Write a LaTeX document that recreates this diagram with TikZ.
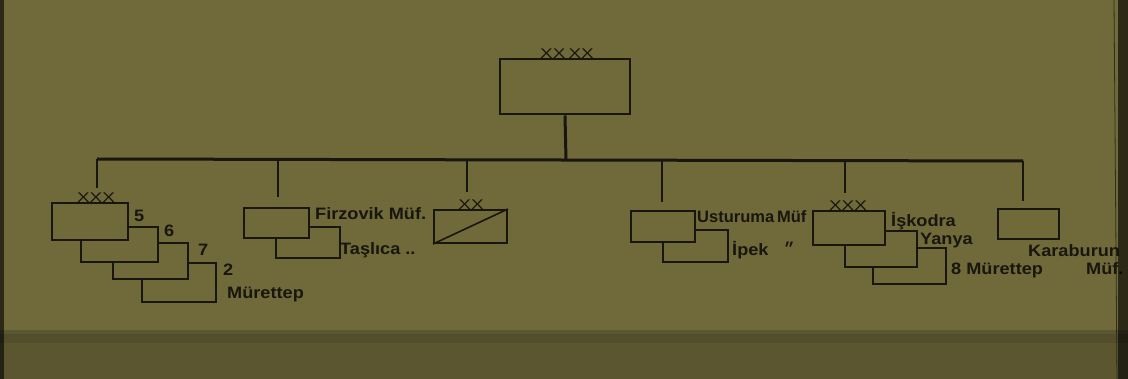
\documentclass[tikz,border=0pt]{standalone}
\usepackage{fontspec}
\setmainfont{Liberation Sans}
\definecolor{paper}{RGB}{112,105,58}
\definecolor{paperdark}{RGB}{92,86,48}
\definecolor{ink}{RGB}{24,22,14}
\begin{document}
\begin{tikzpicture}[x=1pt,y=-1pt,
  unitbox/.style={draw=ink,line width=2pt,fill=none},
  busline/.style={draw=ink,line width=3pt},
  drop/.style={draw=ink,line width=2.6pt},
  lbl/.style={anchor=base west,inner sep=0pt,text=ink,xscale=1.1,font=\fontsize{16.5}{16.5}\selectfont\bfseries},
  echelon/.style={anchor=base,inner sep=0pt,text=ink,xscale=1.35,font=\fontsize{14}{14}\selectfont}]
% background (photo of page)
\fill[paper] (0,0) rectangle (1128,379);
\fill[paperdark] (0,330) rectangle (1128,379);
\fill[paperdark!80!black,opacity=0.5] (0,334) rectangle (1128,343);
\fill[black,opacity=0.6] (0,0) rectangle (4,379);
\useasboundingbox (0,0) rectangle (1128,379);

% top (army) box
\node[unitbox,minimum width=130pt,minimum height=55pt,inner sep=0pt] (army) at (565,87) {};
\node[echelon] (armymark) at (567,59) {XX\,XX};
% bus
\coordinate (busL) at (97,159);
\coordinate (busR) at (1023,161);
\coordinate (busC) at (566,160);
\draw[busline] (army.south) -- (busC);
\draw[busline] (busL) -- (busR);

% drops
\coordinate (d1) at (97,159);   \coordinate (e1) at (97,188);
\coordinate (d2) at (278,159);  \coordinate (e2) at (278,197);
\coordinate (d3) at (467,160);  \coordinate (e3) at (467,192);
\coordinate (d4) at (662,160);  \coordinate (e4) at (662,202);
\coordinate (d5) at (845,161);  \coordinate (e5) at (845,193);
\coordinate (d6) at (1023,161); \coordinate (e6) at (1023,201);
\foreach \i in {1,...,6} \draw[drop] (d\i) -- (e\i);

% group 1 : corps with 4 divisions
\draw[unitbox] (142,263) rectangle (216,302);
\fill[paper] (113,243) rectangle (188,279);
\draw[unitbox] (113,243) rectangle (188,279);
\fill[paper] (81,227) rectangle (158,262);
\draw[unitbox] (81,227) rectangle (158,262);
\fill[paper] (52,203) rectangle (128,240);
\draw[unitbox] (52,203) rectangle (128,240);
\node[echelon] (m1) at (96,203) {XXX};
\node[lbl] (l5) at (134,222) {5};
\node[lbl] (l6) at (164,237) {6};
\node[lbl] (l7) at (198,256) {7};
\node[lbl] (l2) at (223,276) {2};
\node[lbl] (lm1) at (227,299) {Mürettep};

% group 2 : Firzovik, Taşlıca
\draw[unitbox] (276,227) rectangle (340,258);
\fill[paper] (244,208) rectangle (309,238);
\draw[unitbox] (244,208) rectangle (309,238);
\node[lbl] (lf) at (315,220) {Firzovik Müf.};
\node[lbl] (lt) at (340,255) {Taşlıca ..};

% group 3 : division
\node[unitbox,minimum width=73pt,minimum height=33pt,inner sep=0pt] (div) at (470.5,226.5) {};
\draw[ink,line width=1.6pt] (div.south west) -- (div.north east);
\node[echelon] (m3) at (471,210) {XX};

% group 4 : Usturuma, İpek
\draw[unitbox] (663,230) rectangle (728,262);
\fill[paper] (631,211) rectangle (695,242);
\draw[unitbox] (631,211) rectangle (695,242);

% group 5 : corps Işkodra
\draw[unitbox] (873,248) rectangle (946,284);
\fill[paper] (845,231) rectangle (917,267);
\draw[unitbox] (845,231) rectangle (917,267);
\fill[paper] (813,211) rectangle (885,245);
\draw[unitbox] (813,211) rectangle (885,245);
\node[echelon] (m5) at (848,211) {XXX};
\node[lbl,xscale=0.91] (lu) at (697,223) {Usturuma\,Müf};
\node[lbl] (li) at (732,256) {İpek\ \ \ ״};
\node[lbl] (lis) at (891,227) {İşkodra};
\node[lbl] (ly) at (920,245) {Yanya};
\node[lbl] (l8) at (951,275) {8 Mürettep};

% group 6 : Karaburun
\draw[unitbox] (998,209) rectangle (1059,239);
\node[lbl] (lk) at (1028,257) {Karaburun};
\node[lbl] (lkm) at (1086,275) {Müf.};

% page edge on the right
\fill[black,opacity=0.6] (1118,0) rectangle (1128,379);
\draw[ink,line width=0.8pt,opacity=0.7] (1114,0) -- (1117,379);
\end{tikzpicture}
\end{document}
